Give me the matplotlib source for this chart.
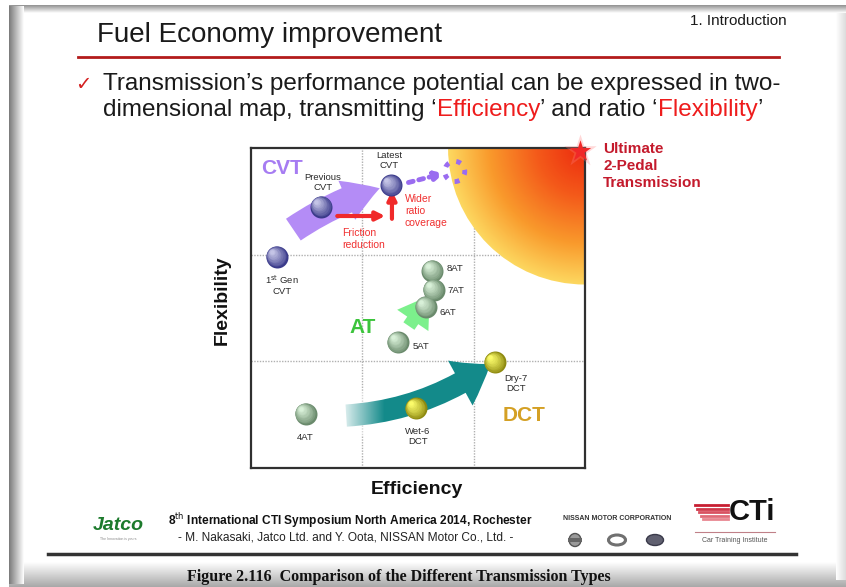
import numpy as np
import matplotlib.pyplot as plt
from matplotlib.patches import FancyArrowPatch, Ellipse, Rectangle
from matplotlib.transforms import ScaledTranslation
from matplotlib.colors import LinearSegmentedColormap, to_rgb

plt.rcParams['font.family'] = ['Liberation Sans', 'DejaVu Sans']

# Transmission positions on the efficiency / flexibility map (0..3 grid)
cvt_names = ['1$^{\\rm st}$ Gen\nCVT', 'Previous\nCVT', 'Latest\nCVT']
cvt_eff = [0.23, 0.63, 1.26]
cvt_flex = [1.98, 2.45, 2.65]

at_names = ['4AT', '5AT', '6AT', '7AT', '8AT']
at_eff = [0.49, 1.32, 1.57, 1.64, 1.63]
at_flex = [0.51, 1.18, 1.51, 1.67, 1.85]

dct_names = ['Wet-6\nDCT', 'Dry-7\nDCT']
dct_eff = [1.48, 2.19]
dct_flex = [0.56, 0.99]

# label offsets in pixels (dx, dy, ha)
cvt_lab = [(5, -28, 'center'), (2, 24, 'center'), (-2, 25, 'center')]
at_lab = [(0, -24, 'center'), (15, -4, 'left'), (14, -6, 'left'), (14, -1, 'left'), (14, 2, 'left')]
dct_lab = [(2, -28, 'center'), (21, -21, 'center')]

W, H = 846, 587
fig = plt.figure(figsize=(W / 100, H / 100), dpi=100)
fig.patch.set_facecolor('white')

# background axes in pixel coordinates
bg = fig.add_axes([0, 0, 1, 1])
bg.set_xlim(0, W)
bg.set_ylim(H, 0)
bg.axis('off')


def shade(x0, x1, y0, y1, c0, c1, horizontal=True):
    g = np.linspace(0, 1, 64)
    a, b = np.array(to_rgb(c0)), np.array(to_rgb(c1))
    cols = a[None, :] * (1 - g[:, None]) + b[None, :] * g[:, None]
    img = cols[None, :, :] if horizontal else cols[:, None, :]
    bg.imshow(img, extent=(x0, x1, y1, y0), aspect='auto', zorder=0, interpolation='bilinear')


# slide frame shadows
shade(9, 846, 562, 587, '#ffffff', '#a8a8a8', horizontal=False)
shade(836, 846, 6, 580, '#ffffff', '#dcdcdc')
shade(9, 846, 5, 13, '#909090', '#ffffff', horizontal=False)
shade(9, 24, 6, 584, '#7a7a7a', '#ffffff')
bg.set_xlim(0, W)
bg.set_ylim(H, 0)

# slide header
bg.text(97, 35, 'Fuel Economy improvement', fontsize=20, va='center', ha='left', color='#1a1a1a')
bg.text(787, 21, '1. Introduction', fontsize=11, va='center', ha='right', color='#1a1a1a')
bg.plot([78, 779], [57, 57], color='#b31b1b', lw=2)
bg.text(83, 84, '\u2713', fontsize=14, va='center', ha='center', color='#d42020', family='DejaVu Sans')

fig.canvas.draw()
rend = fig.canvas.get_renderer()


def line_parts(x, y, parts, size):
    for txt, col in parts:
        t = bg.text(x, y, txt, fontsize=size, color=col, va='center', ha='left')
        x += t.get_window_extent(renderer=rend).width


line_parts(103, 84, [('Transmission\u2019s performance potential can be expressed in two-', '#1a1a1a')], 17.5)
line_parts(103, 110, [('dimensional map, transmitting \u2018', '#1a1a1a'), ('Efficiency', '#ee1c1c'),
                      ('\u2019 and ratio \u2018', '#1a1a1a'), ('Flexibility', '#ee1c1c'),
                      ('\u2019', '#1a1a1a')], 17.5)

# chart axes
ax = fig.add_axes([251 / W, 1 - 468 / H, 334 / W, 320 / H])
ax.set_xlim(0, 3)
ax.set_ylim(0, 3)
ax.set_xticks([])
ax.set_yticks([])
for s in ax.spines.values():
    s.set_color('#303030')
    s.set_linewidth(1.6)
for v in [1, 2]:
    ax.axvline(v, color='#b0b0b0', lw=1, ls=(0, (1, 1)), zorder=0)
    ax.axhline(v, color='#b0b0b0', lw=1, ls=(0, (1, 1)), zorder=0)

# ultimate target region
rx, ry = 1.23, 1.28
gx, gy = np.meshgrid(np.linspace(3 - rx, 3, 200), np.linspace(3 - ry, 3, 200))
rr = np.sqrt(((3 - gx) / rx) ** 2 + ((3 - gy) / ry) ** 2)
hot = LinearSegmentedColormap.from_list('hot2', [(0, '#ec2a0e'), (0.35, '#f45a1a'),
                                                 (0.7, '#f99a2c'), (1, '#fdd860')])
im = ax.imshow(rr, extent=(3 - rx, 3, 3 - ry, 3), origin='lower', cmap=hot, vmin=0, vmax=1,
               aspect='auto', zorder=1)
clip = Ellipse((3, 3), 2 * rx, 2 * ry, transform=ax.transData)
im.set_clip_path(clip)
ax.set_xlim(0, 3)
ax.set_ylim(0, 3)

ax.scatter([2.955], [2.975], marker='*', s=600, color='#ff8080', alpha=0.3, clip_on=False, zorder=6, linewidths=0)
ax.scatter([2.955], [2.975], marker='*', s=260, color='#f02828', clip_on=False, zorder=7, linewidths=0)

# arrows
ax.add_patch(FancyArrowPatch((0.36, 2.22), (1.18, 2.63), connectionstyle='arc3,rad=-0.08',
                             arrowstyle='simple,head_length=1.4,head_width=1.7,tail_width=1.05',
                             mutation_scale=18, color='#b48cf6', lw=0, zorder=3))
ax.annotate('', xy=(1.23, 2.3625), xytext=(0.75, 2.3625),
            arrowprops=dict(arrowstyle='-|>', color='#f02a2a', lw=3, mutation_scale=13), zorder=4)
ax.annotate('', xy=(1.266, 2.625), xytext=(1.266, 2.31),
            arrowprops=dict(arrowstyle='-|>', color='#f02a2a', lw=3, mutation_scale=13), zorder=4)
ax.annotate('', xy=(1.76, 2.77), xytext=(1.39, 2.67),
            arrowprops=dict(arrowstyle='-|>', color='#9a6cf0', lw=3.5, ls=(0, (1, 1.2)),
                            mutation_scale=12), zorder=4)
ax.add_patch(Ellipse((1.83, 2.78), 0.18, 0.19, fill=False, ec='#9a6cf0', lw=3.5,
                     ls=(0, (1, 1.6)), zorder=4))

ax.add_patch(FancyArrowPatch((0.83, 0.49), (2.17, 0.99), connectionstyle='arc3,rad=0.15',
                             arrowstyle='simple,head_length=1.6,head_width=2.3,tail_width=1.0',
                             mutation_scale=16, color='#138a8a', lw=0, zorder=3))
fade = np.ones((1, 64, 4))
fade[0, :, 3] = np.linspace(1, 0, 64)
ax.imshow(fade, extent=(0.78, 1.2, 0.3, 0.72), aspect='auto', zorder=3.5)
ax.set_xlim(0, 3)
ax.set_ylim(0, 3)

ax.add_patch(FancyArrowPatch((at_eff[1], at_flex[1]), (at_eff[3], at_flex[3]),
                             arrowstyle='simple,head_length=1.35,head_width=1.7,tail_width=0.6',
                             mutation_scale=16, shrinkA=14, shrinkB=5, color='#7cf08c', lw=0, zorder=3))


def blend(c0, c1, t):
    a, b = np.array(to_rgb(c0)), np.array(to_rgb(c1))
    return tuple(a * (1 - t) + b * t)


def sphere(x, y, dark, light, d=22):
    n = 10
    dpt = d * 0.72
    for i in range(n):
        t = i / (n - 1)
        frac = 1 - 0.8 * t
        off = (1 - frac) * dpt * 0.28
        tr = ax.transData + ScaledTranslation(-off / 72, off / 72, fig.dpi_scale_trans)
        ax.scatter([x], [y], s=(dpt * frac) ** 2, color=blend(dark, light, t ** 0.8),
                   transform=tr, linewidths=0, zorder=5 + i * 0.01)


def labels(xs, ys, names, offs):
    for x, y, n, (dx, dy, ha) in zip(xs, ys, names, offs):
        ax.annotate(n, (x, y), xytext=(dx * 0.72, dy * 0.72), textcoords='offset points',
                    ha=ha, va='center', fontsize=6.8, color='#2a2a2a', linespacing=1.1, zorder=8)


for x, y in zip(cvt_eff, cvt_flex):
    sphere(x, y, '#3a3a8a', '#c4c4e6')
for x, y in zip(at_eff, at_flex):
    sphere(x, y, '#6a8a6c', '#d8f0d8')
for x, y in zip(dct_eff, dct_flex):
    sphere(x, y, '#8e8a10', '#fbfb6a')
labels(cvt_eff, cvt_flex, cvt_names, cvt_lab)
labels(at_eff, at_flex, at_names, at_lab)
labels(dct_eff, dct_flex, dct_names, dct_lab)

ax.text(0.28, 2.81, 'CVT', fontsize=15, fontweight='bold', color='#a67cf2', ha='center', va='center', zorder=8)
ax.text(1.0, 1.32, 'AT', fontsize=15, fontweight='bold', color='#3cc43c', ha='center', va='center', zorder=8)
ax.text(2.45, 0.49, 'DCT', fontsize=15, fontweight='bold', color='#d4a024', ha='center', va='center', zorder=8)
ax.text(1.383, 2.41, 'Wider\nratio\ncoverage', fontsize=7.5, color='#f03030', ha='left', va='center',
        linespacing=1.3, zorder=8)
ax.text(0.817, 2.147, 'Friction\nreduction', fontsize=7.5, color='#f03030', ha='left', va='center',
        linespacing=1.3, zorder=8)

bg.text(603, 166, 'Ultimate\n2-Pedal\nTransmission', fontsize=11, fontweight='bold', color='#c41a2c',
        ha='left', va='center', linespacing=1.25)
bg.text(222, 300, 'Flexibility', fontsize=14, fontweight='bold', rotation=90, ha='center', va='center',
        color='#111111')
bg.text(417, 490, 'Efficiency', fontsize=14, fontweight='bold', ha='center', va='center', color='#111111')

# footer
bg.text(118, 526, 'Jatco', fontsize=14, fontweight='bold', style='italic', color='#1c7a2c', ha='center', va='center')
bg.text(118, 539, 'The Innovation is yours', fontsize=2.5, color='#888888', ha='center', va='center')
bg.text(168, 521, '8$^{\\rm th}$ International CTI Symposium North America 2014, Rochester', fontsize=8.6,
        color='#111111', ha='left', va='center', fontweight='bold')
bg.text(178, 538, '- M. Nakasaki, Jatco Ltd. and Y. Oota, NISSAN Motor Co., Ltd. -', fontsize=8.6,
        color='#222222', ha='left', va='center')
bg.text(617, 519, 'NISSAN MOTOR CORPORATION', fontsize=5, fontweight='bold', color='#333333',
        ha='center', va='center')
bg.add_patch(Ellipse((575, 540), 12, 13, fc='#9a9a9a', ec='#555555', lw=1))
bg.add_patch(Rectangle((568, 538), 14, 4, fc='#666666', ec='none'))
bg.add_patch(Ellipse((617, 540), 17, 10, fill=False, ec='#707070', lw=2.2))
bg.add_patch(Ellipse((655, 540), 17, 11, fc='#606070', ec='#3a3a4a', lw=1))
for i in range(5):
    bg.plot([695 + i * 2, 728], [505 + i * 3.5, 505 + i * 3.5], color=blend('#c81e32', '#f0a0a8', i / 5), lw=2)
bg.text(752, 512, 'CTi', fontsize=21, fontweight='bold', color='#111111', ha='center', va='center')
bg.plot([695, 775], [532, 532], color='#c08088', lw=0.8)
bg.text(735, 541, 'Car Training Institute', fontsize=5, color='#555555', ha='center', va='center')
bg.plot([48, 796], [554, 554], color='#333333', lw=2.5)
bg.text(399, 577, 'Figure 2.116  Comparison of the Different Transmission Types', fontsize=11.5,
        fontweight='bold', family='Liberation Serif', color='#111111', ha='center', va='center')

fig.savefig('out.png', dpi=100)
